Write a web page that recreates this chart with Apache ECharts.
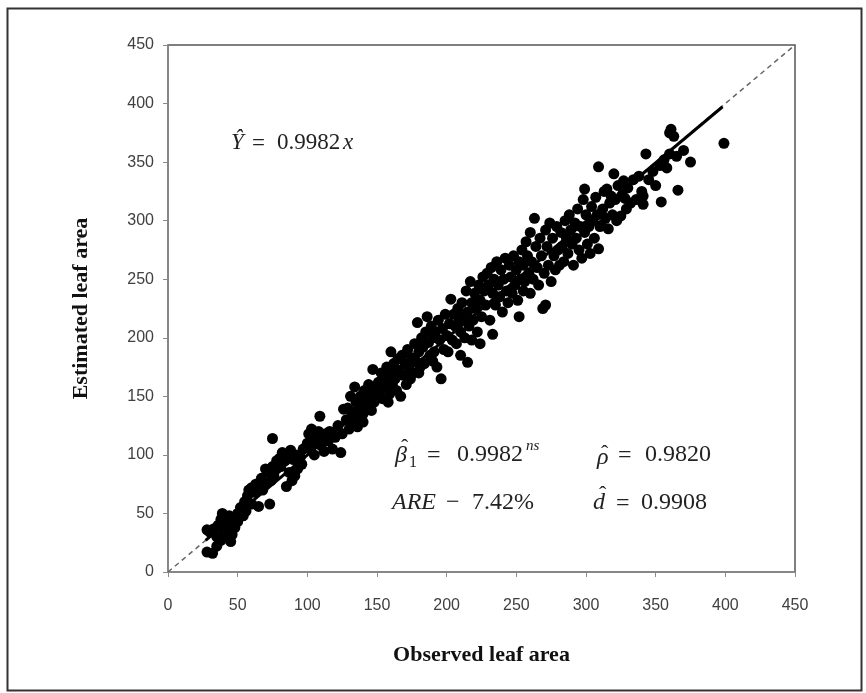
<!DOCTYPE html>
<html>
<head>
<meta charset="utf-8">
<script src="https://cdn.jsdelivr.net/npm/echarts@6/dist/echarts.min.js"></script>
<style>
html,body{margin:0;padding:0;background:#fff;}
#chart{width:866px;height:693px;}
</style>
</head>
<body>
<div id="chart"></div>
<script>
// Axis ticks
var axisTicks = [0, 50, 100, 150, 200, 250, 300, 350, 400, 450];
var axisMin = 0, axisMax = 450, axisStep = 50;

// Observed vs estimated leaf area, [observed, estimated]
var pointsLow = [
  [28,17],[32,16],[28,36],[30,34],[33,37],[35,30],[36,40],[38,27],[38,45],[40,33],[40,38],[42,30],[42,44],
  [44,36],[44,48],[46,41],[46,32],[48,46],[48,38],[50,43],[50,50],[35,22],[39,50],[45,26],
  [52,55],[54,48],[55,60],[56,52],[57,65],[58,70],[60,58],[60,72],[62,68],[63,75],[65,56],[65,72],
  [67,80],[68,70],[70,88],[70,75],[72,85],[73,58],[74,78],[75,90],[75,114],[76,82],[78,95],[78,88],
  [80,97],[81,90],[82,102],[84,95],[85,73],[86,100],[87,85],[88,104],[89,78],[90,96],[91,82],[92,100],
  [93,88],[95,98],[96,92],[97,105],
  [100,110],[101,118],[102,105],[103,122],[104,113],[105,100],[106,116],[107,110],[108,120],[109,133],
  [110,108],[111,115],[112,103],[113,118],[115,112],[116,120],[118,105],[120,115],[122,125],[124,102],
  [125,118],[126,139]
];
var pointsMid = [
  [128,130],[129,140],[130,122],[131,150],[132,135],[133,128],[134,158],[135,145],[136,138],[137,130],
  [138,150],[139,142],[140,135],[141,155],[142,148],[143,140],[144,160],[145,152],[146,138],[147,173],
  [148,145],[149,158],[150,150],[136,124],[140,128],
  [151,162],[152,155],[153,170],[154,148],[155,165],[156,158],[157,175],[158,168],[159,152],[160,188],
  [160,170],[161,160],[162,178],[163,165],[164,155],[165,182],[166,172],[167,150],[168,185],[169,168],
  [170,178],[171,160],[172,190],[173,175],[174,165],[175,183],[176,170],[158,145],
  [177,195],[178,180],[179,213],[180,188],[181,175],[182,200],[183,192],[184,178],[185,205],[186,218],
  [187,196],[188,185],[189,210],[190,200],[191,188],[192,205],[193,175],[194,215],[195,198],[196,165],
  [197,208],[198,190],[199,220],[200,202],[201,188],[202,212],[203,233],[180,170],[190,180],
  [204,198],[205,220],[206,210],[207,195],[208,225],[209,215],[210,205],[211,230],[212,218],[213,200],
  [214,240],[215,179],[215,222],[216,210],[217,248],[218,230],[219,215],[220,238],[221,225],[222,205],
  [223,245],[224,195],[224,232],[225,218],[226,252],[210,185],[218,198]
];
var pointsHigh = [
  [227,240],[228,228],[229,255],[230,245],[231,215],[232,260],[233,203],[233,238],[234,250],[235,228],
  [236,265],[237,245],[238,235],[239,258],[240,222],[241,250],[242,268],[243,240],[244,230],[245,262],
  [246,252],[247,238],[248,270],[249,245],[250,258],[251,232],[252,218],[252,265],[253,250],[255,240],
  [254,275],[255,262],[256,248],[257,282],[258,270],[259,255],[260,238],[260,290],[261,265],[262,250],
  [263,302],[264,278],[265,260],[266,245],[267,285],[268,270],[269,225],[270,255],[271,228],[271,292],
  [272,278],[273,262],[274,298],[275,248],[276,285],[277,270],[278,258],[279,295],[280,275],[281,262],
  [282,290],[283,278],[284,265],[285,300],[286,285],[287,272],[288,305],[289,292],[290,280],[291,262],
  [292,298],[293,285],[294,310],[295,275],[296,295],[297,268],[298,318],[299,327],[299,290],[300,305],
  [301,280],[302,295],[303,272],[304,312],[305,300],[306,285],[307,320],[308,305],[309,276],[309,346],
  [310,295],
  [311,296],[312,310],[313,325],[314,302],[315,327],[316,293],[317,315],[318,321],[319,305],[320,340],
  [321,318],[322,300],[323,330],[325,304],[326,322],[327,334],[328,319],[329,310],[330,328],[332,315],
  [334,335],[336,318],[338,338],[340,325],
  [341,314],[341,321],[343,357],[345,335],[348,342],[350,330],[353,347],[354,316],[356,352],[358,345],
  [360,357],[360,375],[361,378],[363,372],[365,355],[366,326],[370,360],[375,350],[399,366]
];

// Fitted regression Ŷ = 0.9982x, drawn over observed range
var fitSlope = 0.9982;
var fitRange = [27, 398];
// 1:1 reference line
var identityRange = [0, 450];

var allPoints = pointsLow.concat(pointsMid, pointsHigh);
var fitLine = fitRange.map(function (x) { return [x, x * fitSlope]; });
var identityLine = identityRange.map(function (x) { return [x, x]; });

var chart = echarts.init(document.getElementById('chart'), null, {renderer: 'canvas'});

var labelFont = '"Liberation Sans", Arial, sans-serif';
var mathFont = '"Liberation Serif", "DejaVu Serif", serif';

function axisCfg(name, isY) {
  return {
    type: 'value',
    min: axisMin, max: axisMax, interval: axisStep,
    name: name,
    nameLocation: 'middle',
    nameGap: isY ? 76 : 72,
    nameTextStyle: {
      fontFamily: '"Liberation Serif", "Times New Roman", serif',
      fontWeight: 'bold', fontSize: 22, color: '#111'
    },
    axisLine: {show: true, onZero: false, lineStyle: {color: '#8a8a8a', width: 1.5}},
    axisTick: {show: true, inside: false, length: 5, lineStyle: {color: '#8a8a8a', width: 1}},
    axisLabel: {
      color: '#404040', fontFamily: labelFont, fontSize: 16,
      margin: isY ? 14 : 26
    },
    splitLine: {show: false}
  };
}

function t(x, y, text, size, italic) {
  return {
    type: 'text', x: x, y: y, z: 10, silent: true,
    style: {
      text: text, fill: '#222',
      font: (italic ? 'italic ' : '') + size + 'px ' + mathFont,
      align: 'left', verticalAlign: 'middle'
    }
  };
}

var annotations = [
  // Ŷ = 0.9982x
  t(231, 143, 'Ŷ', 23, true),
  t(252, 144, '=', 23, false),
  t(277, 143, '0.9982', 23, false),
  t(343, 143, 'x', 23, true),
  // β̂1 = 0.9982^ns
  t(395, 456, 'β', 24, true),
  t(401, 448, '\u02C6', 22, false),
  t(409, 463, '1', 16, false),
  t(427, 456, '=', 24, false),
  t(457, 455, '0.9982', 24, false),
  t(526, 446, 'ns', 15, true),
  // ρ̂ = 0.9820
  t(597, 458, 'ρ', 24, true),
  t(601, 454, '\u02C6', 22, false),
  t(618, 456, '=', 24, false),
  t(645, 455, '0.9820', 24, false),
  // ARE − 7.42%
  t(392, 503, 'ARE', 24, true),
  t(446, 503, '−', 24, false),
  t(472, 503, '7.42%', 24, false),
  // d̂ = 0.9908
  t(593, 503, 'd', 24, true),
  t(599, 495, '\u02C6', 22, false),
  t(616, 504, '=', 24, false),
  t(641, 503, '0.9908', 24, false)
];

var option = {
  animation: false,
  backgroundColor: '#ffffff',
  grid: {
    left: 168, top: 45, right: 71, bottom: 121,
    show: true, borderColor: '#555555', borderWidth: 1.5, backgroundColor: 'transparent'
  },
  xAxis: axisCfg('Observed leaf area', false),
  yAxis: axisCfg('Estimated leaf area', true),
  series: [
    {
      type: 'line', data: identityLine, symbol: 'none', z: 1,
      lineStyle: {color: '#666', width: 1.5, type: [5, 4]}
    },
    {
      type: 'scatter', data: allPoints, symbol: 'circle', symbolSize: 11, z: 2,
      itemStyle: {color: '#000000', opacity: 1}
    },
    {
      type: 'line', data: fitLine, symbol: 'none', z: 3,
      lineStyle: {color: '#000000', width: 3}
    }
  ],
  graphic: [
    {
      type: 'rect', left: 5, top: 6, z: -10, silent: true,
      shape: {width: 854, height: 682},
      style: {fill: 'none', stroke: '#333333', lineWidth: 2}
    }
  ].concat(annotations)
};

chart.setOption(option);
</script>
</body>
</html>
